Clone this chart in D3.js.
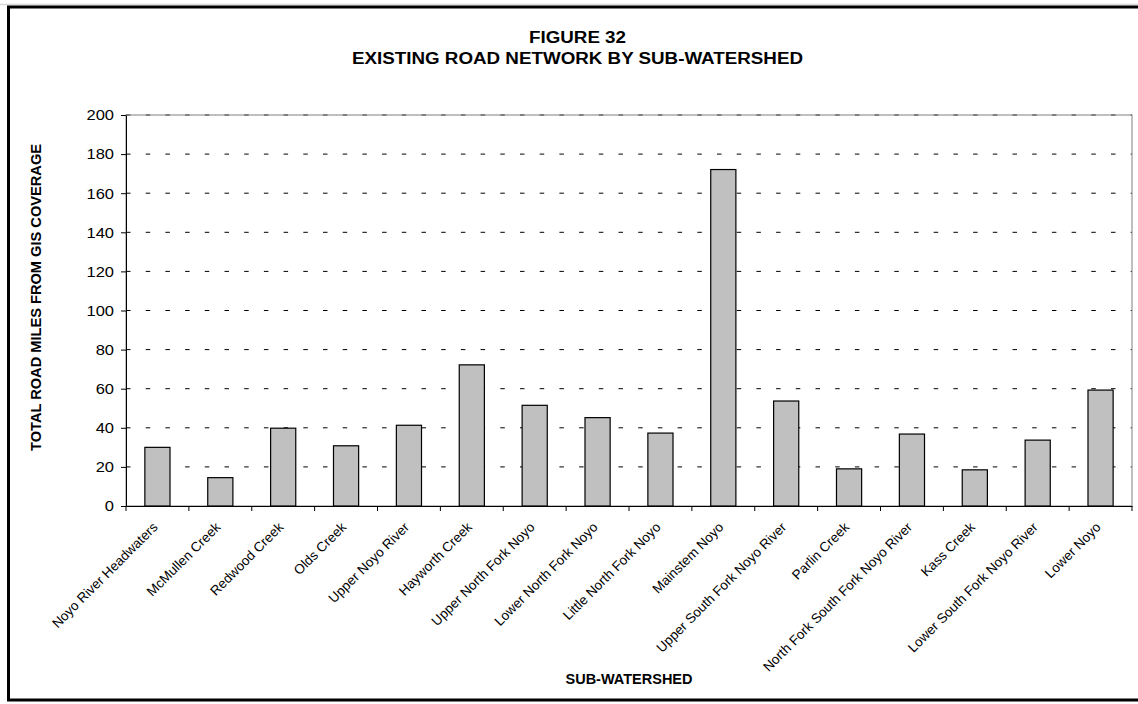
<!DOCTYPE html>
<html>
<head>
<meta charset="utf-8">
<script src="https://cdn.jsdelivr.net/npm/d3@7"></script>
<style>
  html, body { margin: 0; padding: 0; background: #fff; }
  svg { display: block; }
  text { font-family: "Liberation Sans", Arial, sans-serif; fill: #000; }
</style>
</head>
<body>
<svg id="chart" width="1138" height="704"></svg>
<script>
const categories = [
  "Noyo River Headwaters", "McMullen Creek", "Redwood Creek", "Olds Creek",
  "Upper Noyo River", "Hayworth Creek", "Upper North Fork Noyo", "Lower North Fork Noyo",
  "Little North Fork Noyo", "Mainstem Noyo", "Upper South Fork Noyo River", "Parlin Creek",
  "North Fork South Fork Noyo River", "Kass Creek", "Lower South Fork Noyo River", "Lower Noyo"
];
const roadMiles = [30.0, 14.5, 39.8, 30.8, 41.3, 72.2, 51.5, 45.2, 37.3, 172.1, 53.7, 19.0, 36.8, 18.5, 33.7, 59.3];
const yTickValues = [0, 20, 40, 60, 80, 100, 120, 140, 160, 180, 200];
const titleLines = ["FIGURE 32", "EXISTING ROAD NETWORK BY SUB-WATERSHED"];
const yAxisTitle = "TOTAL ROAD MILES FROM GIS COVERAGE";
const xAxisTitle = "SUB-WATERSHED";

const svg = d3.select("#chart");
const plot = { left: 126, right: 1132, top: 115, bottom: 506 };

function stretch(sel, f) {
  sel.each(function () {
    const w = this.getComputedTextLength();
    d3.select(this).attr("textLength", w * f).attr("lengthAdjust", "spacingAndGlyphs");
  });
}

// faint line above frame
svg.append("line").attr("x1", 0).attr("x2", 1138).attr("y1", 4.5).attr("y2", 4.5)
  .attr("stroke", "#d8d8d8").attr("stroke-width", 1.5);
// outer frame
svg.append("rect").attr("x", 8.5).attr("y", 7).attr("width", 1138).attr("height", 693)
  .attr("fill", "none").attr("stroke", "#000").attr("stroke-width", 3);

const x = d3.scaleBand().domain(categories).range([plot.left, plot.right])
  .paddingInner(0.6).paddingOuter(0.3);
const y = d3.scaleLinear().domain([0, 200]).range([plot.bottom, plot.top]);

// gridlines
svg.append("g").selectAll("line").data(yTickValues.filter(v => v > 0)).join("line")
  .attr("x1", plot.left).attr("x2", plot.right)
  .attr("y1", d => y(d)).attr("y2", d => y(d))
  .attr("stroke", "#000").attr("stroke-width", 1).attr("stroke-dasharray", "4.5,15.2");

// plot border (top / right)
svg.append("rect").attr("x", plot.left).attr("y", plot.top)
  .attr("width", plot.right - plot.left).attr("height", plot.bottom - plot.top)
  .attr("fill", "none").attr("stroke", "#808080").attr("stroke-width", 1);

// bars
svg.append("g").selectAll("rect").data(categories).join("rect")
  .attr("x", d => x(d)).attr("width", x.bandwidth())
  .attr("y", (d, i) => y(roadMiles[i]))
  .attr("height", (d, i) => y(0) - y(roadMiles[i]))
  .attr("fill", "#c0c0c0").attr("stroke", "#000").attr("stroke-width", 1.2);

// y axis
const yAxis = svg.append("g").attr("transform", `translate(${plot.left},0)`)
  .call(d3.axisLeft(y).tickValues(yTickValues).tickSize(5).tickPadding(7).tickSizeOuter(0));
yAxis.select(".domain").attr("stroke", "#000");
yAxis.selectAll(".tick line").attr("stroke", "#000");
yAxis.selectAll(".tick text").attr("font-size", 15).attr("font-family", "Liberation Sans, Arial, sans-serif")
  .call(stretch, 1.1);

// x axis line + boundary ticks
const xAxis = svg.append("g").attr("transform", `translate(0,${plot.bottom})`)
  .call(d3.axisBottom(x).tickSize(0).tickSizeOuter(0).tickFormat(""));
xAxis.select(".domain").attr("stroke", "#000");
const step = x.step();
const bounds = categories.map(c => x(c) - step * x.paddingOuter()).concat([plot.right]);
svg.append("g").selectAll("line").data(bounds).join("line")
  .attr("x1", d => d).attr("x2", d => d)
  .attr("y1", plot.bottom).attr("y2", plot.bottom + 5)
  .attr("stroke", "#000");

// category labels
svg.append("g").selectAll("text").data(categories).join("text")
  .attr("transform", d => `translate(${x(d) + x.bandwidth() / 2 + 1},${plot.bottom + 22}) rotate(-45)`)
  .attr("text-anchor", "end")
  .attr("font-size", 13.5)
  .text(d => d);

// titles
const t = svg.append("g");
t.append("text").attr("x", 577.5).attr("y", 43).attr("text-anchor", "middle")
  .attr("font-size", 16).attr("font-weight", "bold").text(titleLines[0])
  .attr("textLength", 97).attr("lengthAdjust", "spacingAndGlyphs");
t.append("text").attr("x", 577.5).attr("y", 64).attr("text-anchor", "middle")
  .attr("font-size", 16).attr("font-weight", "bold").text(titleLines[1])
  .attr("textLength", 451).attr("lengthAdjust", "spacingAndGlyphs");

svg.append("text").attr("transform", "translate(41,297.5) rotate(-90)")
  .attr("text-anchor", "middle").attr("font-size", 15).attr("font-weight", "bold")
  .text(yAxisTitle).attr("textLength", 307).attr("lengthAdjust", "spacingAndGlyphs");

svg.append("text").attr("x", (plot.left + plot.right) / 2).attr("y", 684)
  .attr("text-anchor", "middle").attr("font-size", 14.5).attr("font-weight", "bold")
  .text(xAxisTitle);
</script>
</body>
</html>
